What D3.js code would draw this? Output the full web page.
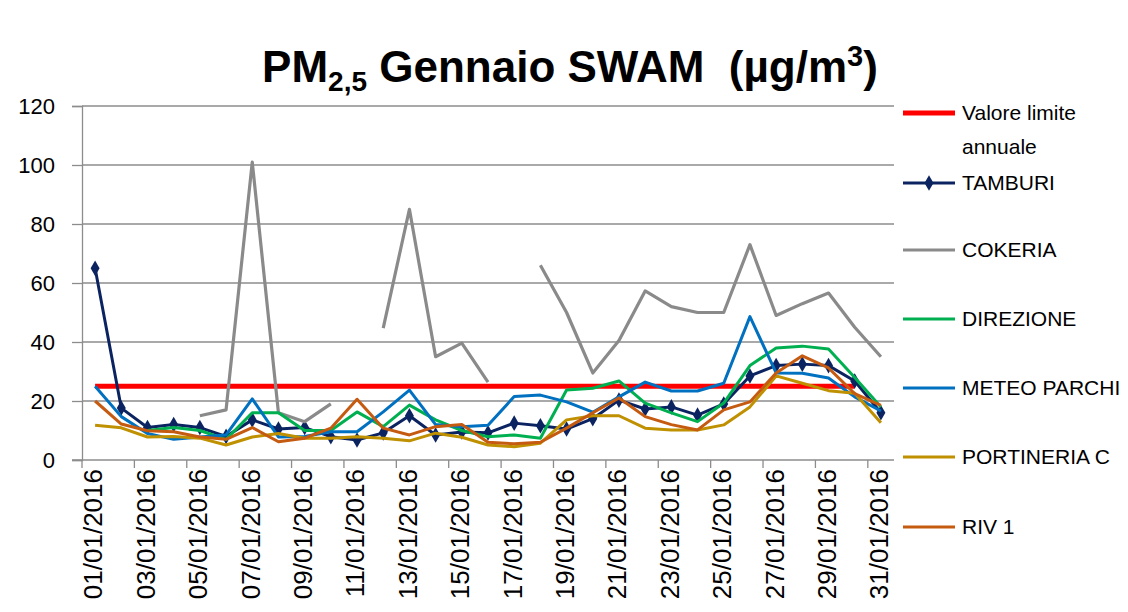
<!DOCTYPE html>
<html>
<head>
<meta charset="utf-8">
<script src="https://cdn.jsdelivr.net/npm/d3@7/dist/d3.min.js"></script>
<style>
  html, body { margin: 0; padding: 0; background: #ffffff; }
  svg { display: block; }
  text { font-family: "Liberation Sans", Arial, sans-serif; fill: #000; }
</style>
</head>
<body>
<svg id="chart" width="1128" height="612"></svg>
<script>
// ---- data ----
const dates = d3.range(1, 32).map(d => String(d).padStart(2, "0") + "/01/2016");
const yTicks = [0, 20, 40, 60, 80, 100, 120];

const limite = [25,25,25,25,25,25,25,25,25,25,25,25,25,25,25,25,25,25,25,25,25,25,25,25,25,25,25,25,25,25,null];
const tamburi = [65,17.6,11,12,11,8,13.6,10.5,11,7.9,6.8,9.2,15,8.5,9.5,9.2,12.5,11.6,10.5,14,20.3,17.3,18,15.2,19,28.5,32,32.5,32,26.8,16];
const cokeria = [null,null,null,null,15,17,101,16,13,19,null,44.7,85,35,39.6,26.4,null,66,50,29.5,40.5,57.3,52,50,50,73,49,53,56.6,45,35];
const direzione = [null,null,10,11,10,7,16,16,10,10,16.3,11.3,18.6,13.6,10,7.9,8.5,7.4,23.7,24.3,26.8,19.3,16,13,19.3,32,38,38.6,37.6,28,18];
const meteoParchi = [25,14.7,9,7,7.8,8.5,20.7,7.8,8,9.6,9.6,16.3,23.7,12,11.3,11.8,21.5,22,19.7,16.2,21.4,26.4,23.4,23.4,26,48.6,29.5,29.4,27.8,21.4,16.6];
const portineria = [11.8,10.9,7.8,8,7.4,5.1,7.8,9,7.4,7.4,7.9,7.4,6.5,9.1,7.7,5.1,4.5,5.7,13.6,15,15,10.8,10.2,10.2,11.9,18,28.5,26,23.5,22.6,12.6];
const riv1 = [20,12.2,9.9,9.6,7.8,7,11,6.2,7.4,10.8,20.6,10.8,8.5,11.3,12,6,5.5,6,10.8,16,21,14.7,12,10.2,17,19.7,29.5,35.3,31.2,22.5,18.5];

const seriesNames = ["Valore limite annuale", "TAMBURI", "COKERIA", "DIREZIONE", "METEO PARCHI", "PORTINERIA C", "RIV 1"];
const seriesValues = [limite, tamburi, cokeria, direzione, meteoParchi, portineria, riv1];
const seriesColors = ["#ff0000", "#0b2461", "#8a8a8a", "#00b050", "#0070c0", "#bf9000", "#c55a11"];
const seriesWidths = [5, 3, 3.2, 3, 3, 3, 3];

// ---- layout ----
const svg = d3.select("#chart");
const plotLeft = 82, plotRight = 894, plotTop = 106, plotBottom = 460;

const xBand = d3.scaleBand().domain(dates).range([plotLeft, plotRight]).padding(0);
const xc = d => xBand(d) + xBand.bandwidth() / 2;
const y = d3.scaleLinear().domain([0, 120]).range([plotBottom, plotTop]);

const gridColor = "#8c8c8c";

// gridlines
svg.append("g").selectAll("line").data(yTicks.filter(t => t > 0)).join("line")
  .attr("x1", plotLeft).attr("x2", plotRight)
  .attr("y1", d => y(d)).attr("y2", d => y(d))
  .attr("stroke", gridColor).attr("stroke-width", 1.3);

// y axis
const yAxis = d3.axisLeft(y).tickValues(yTicks).tickSize(10).tickPadding(17).tickFormat(d3.format("d"));
const gy = svg.append("g").attr("transform", `translate(${plotLeft},0)`).call(yAxis);
gy.select(".domain").attr("stroke", gridColor).attr("stroke-width", 1.3);
gy.selectAll(".tick line").attr("stroke", gridColor).attr("stroke-width", 1.3);
gy.selectAll(".tick text").style("font-size", "22px").style("font-family", "Liberation Sans, Arial, sans-serif").attr("fill", "#000");

// x axis
const gx = svg.append("g");
gx.append("line").attr("x1", plotLeft - 10).attr("x2", plotRight).attr("y1", plotBottom).attr("y2", plotBottom)
  .attr("stroke", gridColor).attr("stroke-width", 1.3);
const tickDates = dates.filter((d, i) => i % 2 === 0);
gx.selectAll("line.tk").data(tickDates).join("line").attr("class", "tk")
  .attr("x1", d => xBand(d)).attr("x2", d => xBand(d))
  .attr("y1", plotBottom).attr("y2", plotBottom + 8)
  .attr("stroke", gridColor).attr("stroke-width", 1.3);
gx.selectAll("text").data(tickDates).join("text")
  .attr("transform", d => `translate(${xc(d) - 2},${plotBottom + 9}) rotate(-90)`)
  .attr("text-anchor", "end")
  .attr("dy", "0.36em")
  .style("font-size", "26px")
  .text(d => d);

// lines
const lineGen = d3.line().defined(d => d.v != null).x(d => xc(d.k)).y(d => y(d.v));
seriesValues.forEach((vals, si) => {
  const pts = vals.map((v, i) => ({ k: dates[i], v }));
  svg.append("path").datum(pts)
    .attr("fill", "none")
    .attr("stroke", seriesColors[si])
    .attr("stroke-width", seriesWidths[si])
    .attr("stroke-linejoin", "round")
    .attr("d", lineGen);
  if (si === 1) {
    svg.append("g").selectAll("path").data(pts.filter(p => p.v != null)).join("path")
      .attr("d", d3.symbol().type(d3.symbolDiamond).size(70))
      .attr("transform", d => `translate(${xc(d.k)},${y(d.v)})`)
      .attr("fill", seriesColors[si]);
  }
});

// legend
const legY = [113, 183, 250, 319, 388, 457, 527];
const lg = svg.append("g");
seriesNames.forEach((name, i) => {
  const yy = legY[i];
  lg.append("line").attr("x1", 903).attr("x2", 955).attr("y1", yy).attr("y2", yy)
    .attr("stroke", seriesColors[i]).attr("stroke-width", i === 0 ? 5 : 3);
  if (i === 1) {
    lg.append("path").attr("d", d3.symbol().type(d3.symbolDiamond).size(70))
      .attr("transform", `translate(929,${yy})`).attr("fill", seriesColors[i]);
  }
  if (i === 0) {
    const t = lg.append("text").attr("x", 962).attr("y", yy).attr("dy", "0.35em").style("font-size", "21px");
    t.append("tspan").attr("x", 962).text("Valore limite");
    t.append("tspan").attr("x", 962).attr("dy", "1.58em").text("annuale");
  } else {
    lg.append("text").attr("x", 962).attr("y", yy).attr("dy", "0.35em").style("font-size", "21px").text(name);
  }
});

// title
const title = svg.append("text").attr("x", 570).attr("y", 82).attr("text-anchor", "middle")
  .style("font-size", "44px").style("font-weight", "bold").style("white-space", "pre");
title.append("tspan").text("PM");
title.append("tspan").attr("dy", 9).style("font-size", "28px").text("2,5");
title.append("tspan").attr("dy", -9).text(" Gennaio SWAM \u00a0(µg/m");
title.append("tspan").attr("dy", -16).style("font-size", "29px").text("3");
title.append("tspan").attr("dy", 16).text(")");
</script>
</body>
</html>
